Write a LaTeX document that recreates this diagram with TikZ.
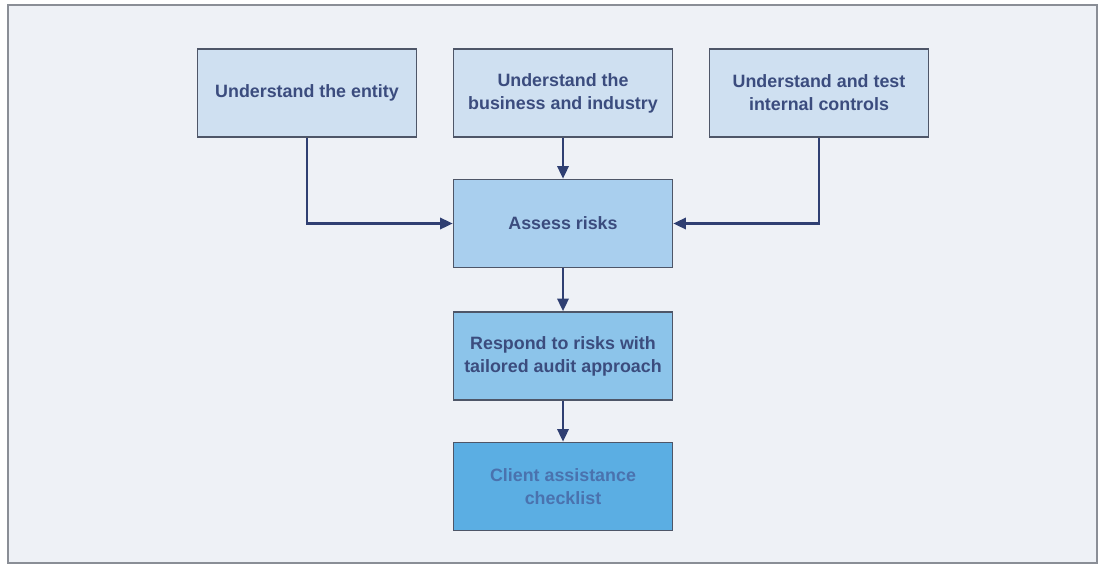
\documentclass[tikz,border=0pt]{standalone}
\usepackage{fontspec}
\setmainfont{Liberation Sans}
\usetikzlibrary{arrows.meta}
\definecolor{bgc}{HTML}{EEF1F6}
\definecolor{framec}{HTML}{8A8E96}
\definecolor{boxline}{HTML}{4E5668}
\definecolor{fillA}{HTML}{CFE0F1}
\definecolor{fillB}{HTML}{A9CFEE}
\definecolor{fillC}{HTML}{8CC4EA}
\definecolor{fillD}{HTML}{5BAEE3}
\definecolor{txt}{HTML}{3B4C7E}
\definecolor{txtD}{HTML}{4A72AE}
\definecolor{arr}{HTML}{2F3F72}
\tikzset{
  x={0.025cm}, y={-0.025cm},
  flowbox/.style={draw=boxline, line width=1.1pt, minimum width=219*0.025cm, minimum height=88*0.025cm,
    align=center, inner sep=0pt, text=txt, font=\fontsize{12.7}{16.5}\selectfont\bfseries},
  conn/.style={draw=arr, line width=1.8pt, -{Triangle[length=9pt,width=8pt]}}
}
\begin{document}
\begin{tikzpicture}
\useasboundingbox (0,0) rectangle (1103,567);
\fill[white] (0,0) rectangle (1103,567);
\draw[framec, line width=1.4pt, fill=bgc] (8,5) rectangle (1097,563);
\node[flowbox, fill=fillA] (entity) at (307,93) {Understand the entity};
\node[flowbox, fill=fillA] (business) at (563,93) {Understand the\\business and industry};
\node[flowbox, fill=fillA] (controls) at (819,93) {Understand and test\\internal controls};
\node[flowbox, fill=fillB] (assess) at (563,223.5) {Assess risks};
\node[flowbox, fill=fillC] (respond) at (563,356) {Respond to risks with\\tailored audit approach};
\node[flowbox, fill=fillD, text=txtD] (client) at (563,486.5) {Client assistance\\checklist};
\draw[conn] (entity.south) |- (assess.west);
\draw[conn] (controls.south) |- (assess.east);
\draw[conn] (business.south) -- (assess.north);
\draw[conn] (assess.south) -- (respond.north);
\draw[conn] (respond.south) -- (client.north);
\end{tikzpicture}
\end{document}
